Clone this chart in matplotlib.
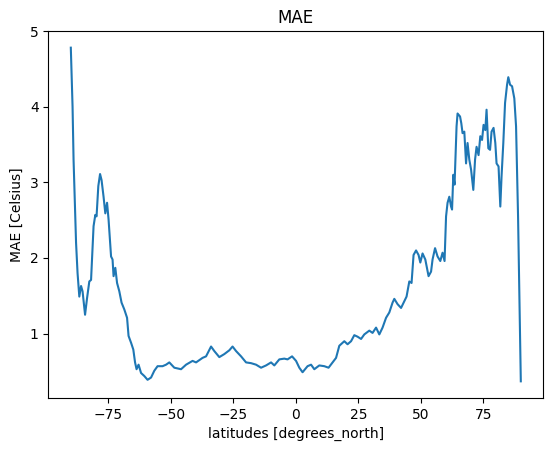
import matplotlib
matplotlib.use("Agg")
import matplotlib.pyplot as plt

lat = [-90.0, -89.3, -88.9, -87.9, -87.3, -86.6, -85.9, -85.3, -84.3, -83.5, -82.6, -81.9,
       -80.9, -80.2, -79.7, -79.0, -78.3, -77.7, -76.9, -76.2, -75.5, -74.9, -73.9, -73.3,
       -72.9, -72.2, -71.5, -70.6, -69.7, -68.6, -67.5, -66.9, -65.9, -65.0,
       -64.3, -63.7, -62.9, -61.9, -60.6, -59.3, -57.9, -56.6, -55.3, -53.3, -51.9, -50.6,
       -48.6, -45.9, -43.9, -41.3, -39.9, -37.3, -35.9, -33.9, -32.6, -30.6, -28.6, -26.6,
       -25.3, -23.9, -21.9, -19.9, -17.9, -15.9, -13.9, -11.9, -9.9, -8.6, -6.6, -4.6,
       -3.3, -1.5, 0.1, 1.4, 2.7, 4.7, 6.1, 7.4, 9.4, 11.4, 13.1, 14.7, 16.1, 17.4,
       19.4, 20.7, 22.1, 23.4, 24.7, 26.1, 27.4, 29.4, 30.7, 32.1, 33.4, 34.7, 36.1,
       37.4, 38.7, 39.4, 40.7, 42.1, 43.4, 44.3, 45.4, 46.3, 47.1, 48.1, 49.1, 49.8,
       50.7, 51.8, 53.1, 54.1, 54.7, 55.7, 56.7, 57.8, 58.7, 59.5, 60.1, 60.7, 61.4,
       62.1, 62.5, 63.0, 63.5, 64.3, 64.7, 65.7, 66.2, 66.7, 67.4, 68.1, 68.7, 69.4,
       70.1, 71.0, 71.7, 72.3, 73.1, 73.8, 74.5, 75.1, 75.8, 76.3, 77.0, 77.7, 78.3,
       79.1, 79.8, 80.3, 81.1, 81.8, 82.3, 83.0, 83.7, 84.5, 85.0, 85.7, 86.5,
       87.4, 88.1, 88.9, 90.0]
mae = [4.78, 4.00, 3.30, 2.20, 1.80, 1.49, 1.63, 1.56, 1.25, 1.47, 1.69, 1.71,
       2.42, 2.57, 2.55, 2.95, 3.11, 3.03, 2.81, 2.59, 2.73, 2.51, 2.02, 1.98,
       1.76, 1.87, 1.67, 1.56, 1.41, 1.32, 1.21, 0.97, 0.88, 0.79,
       0.62, 0.53, 0.59, 0.48, 0.44, 0.39, 0.42, 0.51, 0.57, 0.57, 0.59, 0.62,
       0.55, 0.53, 0.59, 0.64, 0.62, 0.68, 0.70, 0.83, 0.77, 0.69, 0.73, 0.78,
       0.83, 0.77, 0.70, 0.62, 0.61, 0.59, 0.55, 0.58, 0.62, 0.58, 0.66, 0.67,
       0.66, 0.70, 0.64, 0.55, 0.49, 0.57, 0.59, 0.53, 0.58, 0.57, 0.55, 0.62, 0.68, 0.84,
       0.90, 0.86, 0.90, 0.98, 0.96, 0.93, 0.99, 1.04, 1.01, 1.08, 0.99, 1.08, 1.21,
       1.28, 1.41, 1.46, 1.39, 1.34, 1.43, 1.49, 1.69, 1.67, 2.04, 2.10, 2.04, 1.94,
       2.06, 1.98, 1.76, 1.82, 1.98, 2.13, 2.02, 1.96, 2.07, 1.96, 2.55, 2.73, 2.81,
       2.68, 2.64, 3.10, 2.97, 3.74, 3.91, 3.87, 3.78, 3.65, 3.67, 3.25, 3.52, 3.30,
       3.17, 2.90, 3.30, 3.47, 3.36, 3.61, 3.56, 3.76, 3.69, 3.96, 3.45, 3.43, 3.67,
       3.72, 3.52, 3.25, 3.21, 2.68, 3.08, 3.52, 4.05, 4.29, 4.39, 4.29, 4.27,
       4.11, 3.74, 2.55, 0.37]

fig = plt.figure(figsize=(5.54, 4.53), dpi=100)
ax = fig.add_axes([0.0872, 0.1214, 0.8935, 0.8102])
ax.plot(lat, mae, color="#1f77b4", linewidth=1.5)
ax.set_title("MAE")
ax.set_xlabel("latitudes [degrees_north]")
ax.set_ylabel("MAE [Celsius]")
fig.savefig("out.png", dpi=100)
